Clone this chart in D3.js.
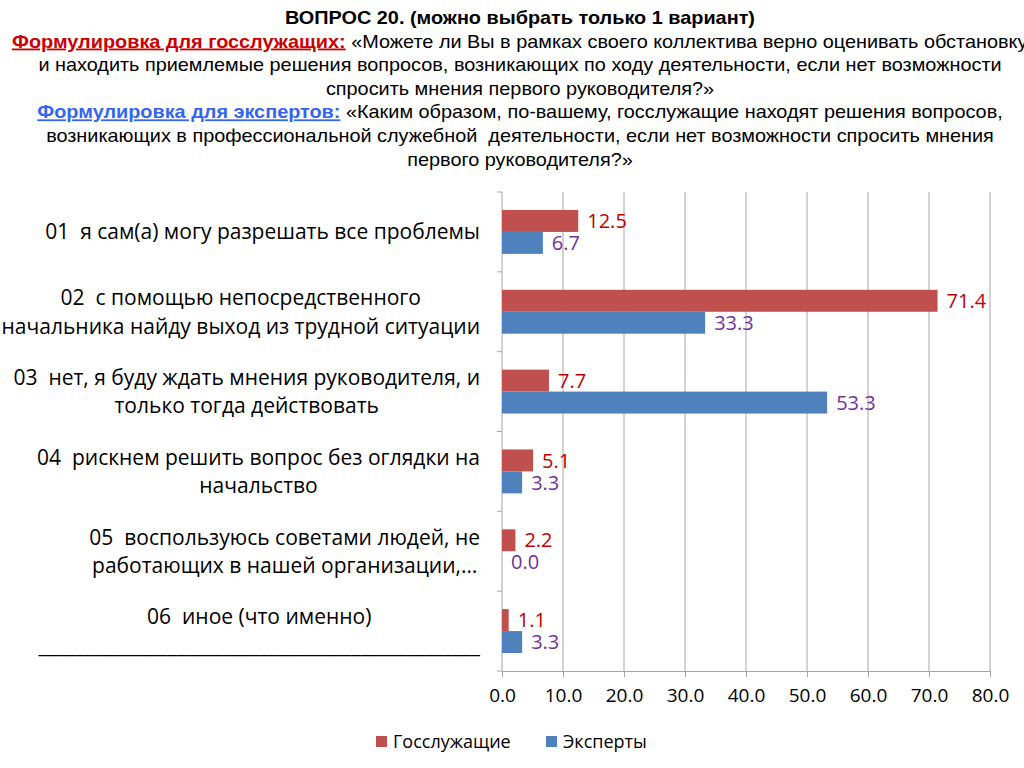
<!DOCTYPE html>
<html><head><meta charset="utf-8">
<script src="https://cdn.jsdelivr.net/npm/d3@7"></script>
<style>
body{margin:0;background:#fff;}
svg{display:block;}
</style></head>
<body>
<svg id="chart" width="1024" height="768"></svg>
<script>
const categories = [
  "01  я сам(а) могу разрешать все проблемы",
  "02  с помощью непосредственного\nначальника найду выход из трудной ситуации",
  "03  нет, я буду ждать мнения руководителя, и\nтолько тогда действовать",
  "04  рискнем решить вопрос без оглядки на\nначальство",
  "05  воспользуюсь советами людей, не\nработающих в нашей организации,…",
  "06  иное (что именно)\n________________________________________________"
];
const seriesNames = ["Госслужащие", "Эксперты"];
const gosValues = [12.5, 71.4, 7.7, 5.1, 2.2, 1.1];
const expValues = [6.7, 33.3, 53.3, 3.3, 0.0, 3.3];
const xTicks = [0, 10, 20, 30, 40, 50, 60, 70, 80];
const titleLines = [
  {parts:[{t:"ВОПРОС 20. (можно выбрать только 1 вариант)", bold:true}]},
  {parts:[{t:"Формулировка для госслужащих:", bold:true, color:"#cc0000", u:true},{t:" «Можете ли Вы в рамках своего коллектива верно оценивать обстановку"}], left:true},
  {parts:[{t:"и находить приемлемые решения вопросов, возникающих по ходу деятельности, если нет возможности"}]},
  {parts:[{t:"спросить мнения первого руководителя?»"}]},
  {parts:[{t:"Формулировка для экспертов:", bold:true, color:"#3366ee", u:true},{t:" «Каким образом, по-вашему, госслужащие находят решения вопросов,"}]},
  {parts:[{t:"возникающих в профессиональной служебной  деятельности, если нет возможности спросить мнения"}]},
  {parts:[{t:"первого руководителя?»"}]}
];

(function () {
const colors = ["#c0504d", "#4f81bd"];
const labelColors = ["#c00000", "#7030a0"];
const font = "'Open Sans', Lato, sans-serif";
const titleFont = "'Liberation Sans', Arial, sans-serif";

const svg = d3.select("#chart");

// Title (horizontally stretched to mimic the original face)
const sx = 1.104, cxT = 520;
const tg = svg.append("g").attr("transform", `translate(${cxT},0) scale(${sx},1) translate(${-cxT},0)`);
titleLines.forEach((ln, i) => {
  const yy = 24 + i * 23.6;
  const t = tg.append("text")
    .attr("y", yy)
    .attr("font-family", titleFont)
    .attr("font-size", 18)
    .attr("fill", "#000")
    .attr("xml:space", "preserve")
    .style("white-space", "pre");
  if (ln.left) t.attr("x", cxT - (cxT - 12) / sx).attr("text-anchor", "start");
  else t.attr("x", cxT).attr("text-anchor", "middle");
  ln.parts.forEach(p => {
    t.append("tspan").text(p.t)
      .attr("font-weight", p.bold ? "bold" : "normal")
      .attr("fill", p.color || "#000")
      .attr("text-decoration", p.u ? "underline" : null);
  });
});

// Plot area
const pLeft = 502, pRight = 990, pTop = 192, pBottom = 671;
const x = d3.scaleLinear().domain([0, 80]).range([pLeft, pRight]);
const y = d3.scaleBand().domain(d3.range(categories.length)).range([pTop, pBottom])
  .paddingInner(0.45).paddingOuter(0.225);
const ySub = d3.scaleBand().domain([0, 1]).range([0, y.bandwidth()]);
const step = y.step();

// Gridlines
svg.append("g").selectAll("line").data(xTicks.filter(d => d > 0)).join("line")
  .attr("x1", d => x(d)).attr("x2", d => x(d))
  .attr("y1", pTop).attr("y2", pBottom)
  .attr("stroke", "#a6a6a6").attr("stroke-width", 1);

// X axis
const xAxis = d3.axisBottom(x).tickValues(xTicks).tickFormat(d3.format(".1f")).tickSize(6).tickPadding(12);
const xg = svg.append("g").attr("transform", `translate(0,${pBottom})`).call(xAxis);
xg.select(".domain").attr("stroke", "#a6a6a6");
xg.selectAll(".tick line").attr("stroke", "#a6a6a6");
xg.selectAll(".tick text").attr("font-family", font).attr("font-size", 19).attr("fill", "#000");

// Y axis line with band boundary ticks
const yAxisG = svg.append("g");
yAxisG.append("line").attr("x1", pLeft).attr("x2", pLeft).attr("y1", pTop).attr("y2", pBottom)
  .attr("stroke", "#a6a6a6");
yAxisG.selectAll("line.bt").data(d3.range(categories.length + 1)).join("line")
  .attr("class", "bt")
  .attr("x1", pLeft - 5).attr("x2", pLeft)
  .attr("y1", i => pTop + i * step).attr("y2", i => pTop + i * step)
  .attr("stroke", "#a6a6a6");

// Bars
const series = [gosValues, expValues];
series.forEach((vals, si) => {
  const g = svg.append("g");
  g.selectAll("rect").data(vals).join("rect")
    .attr("x", x(0))
    .attr("y", (d, i) => y(i) + ySub(si))
    .attr("width", d => x(d) - x(0))
    .attr("height", ySub.bandwidth())
    .attr("fill", colors[si]);
  g.selectAll("text").data(vals).join("text")
    .attr("x", d => x(d) + 9)
    .attr("y", (d, i) => y(i) + ySub(si) + ySub.bandwidth() / 2)
    .attr("dy", "0.36em")
    .attr("font-family", font)
    .attr("font-size", 20)
    .attr("fill", labelColors[si])
    .text(d => d3.format(".1f")(d));
});

// Category labels
categories.forEach((c, i) => {
  const lines = c.split("\n");
  const cy = y(i) + y.bandwidth() / 2;
  const lh = 28.5;
  const g = svg.append("g");
  const texts = lines.map((l, j) => g.append("text")
    .attr("y", cy + (j - (lines.length - 1) / 2) * lh)
    .attr("dy", "0.36em")
    .attr("text-anchor", "middle")
    .attr("font-family", font)
    .attr("font-size", 21)
    .attr("fill", "#000")
    .attr("xml:space", "preserve")
    .style("white-space", "pre")
    .text(l));
  const maxW = d3.max(texts, t => t.node().getComputedTextLength());
  const cx = 480 - maxW / 2;
  texts.forEach(t => t.attr("x", cx));
});

// Legend
const lg = svg.append("g");
const legendX = [376, 546];
seriesNames.forEach((n, i) => {
  lg.append("rect").attr("x", legendX[i]).attr("y", 736).attr("width", 11).attr("height", 11).attr("fill", colors[i]);
  lg.append("text").attr("x", legendX[i] + 17).attr("y", 742).attr("dy", "0.36em")
    .attr("font-family", font).attr("font-size", 18).attr("fill", "#000").text(n);
});
})();
</script>
</body></html>
